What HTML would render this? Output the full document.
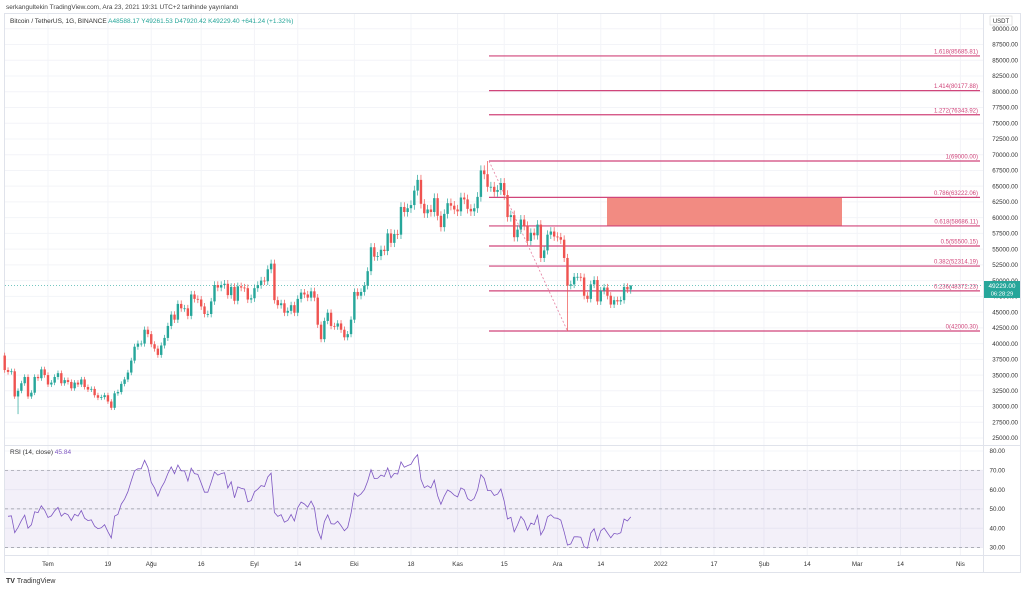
<!DOCTYPE html>
<html><head><meta charset="utf-8"><style>
html,body{margin:0;padding:0;background:#fff;}
svg{display:block;font-family:"Liberation Sans",sans-serif;}
</style></head><body>
<svg id="c" width="1024" height="589" viewBox="0 0 1024 589">
<rect x="0" y="0" width="1024" height="589" fill="#fff"/>
<text x="6" y="9" font-size="6.5" fill="#444">serkangultekin TradingView.com, Ara 23, 2021 19:31 UTC+2 tarihinde yayınlandı</text>
<rect x="4.5" y="13.5" width="1016" height="559" fill="none" stroke="#e0e3eb"/>
<g id="grid"></g>
<g id="rsibg"></g>
<g id="fib"></g>
<g id="candles"></g>
<g id="rsi"></g>
<g id="axes"></g>
<text x="10" y="23" font-size="6.5" fill="#333">Bitcoin / TetherUS, 1G, BINANCE <tspan fill="#26a69a">A48588.17 Y49261.53 D47920.42 K49229.40 +641.24 (+1.32%)</tspan></text>
<text x="10" y="454" font-size="6.5" fill="#333">RSI (14, close) <tspan fill="#7e57c2">45.84</tspan></text>
<text x="6" y="583" font-size="7" fill="#333" font-weight="bold">TV <tspan font-weight="normal">TradingView</tspan></text>
</svg>
<script>
const closesJun=[36700,37600,39200,36900,35500,35800,33600,33400,37400,36700,37300,35600,39100,40500,40200,38300,38100,35800,35500,35600,31600,32500,33700,34700,31600,32200,34700,34500,35900,35000];
const closesJul=[33500,33800,34700,35300,33700,34200,33900,32900,33800,33500,34300,33100,32700,32800,31800,31400,31500,31800,30800,29800,32100,32300,33600,34300,35400,37300,39500,40000,40000,42200,41500];
const closesAug=[39900,39200,38200,39700,40900,42800,44600,43800,46300,45600,45600,44400,47800,47100,47000,45900,44700,44700,46700,49300,48900,49300,49500,47700,49000,46800,49100,48900,48800,47000,47200];
const closesSep=[48800,49300,50000,49900,51800,52700,46900,46100,46400,44900,45200,46100,44900,47100,48100,47800,47300,48300,47300,43000,40700,43600,44900,42800,42700,43200,42200,41000,41500,43800];
const closesOct=[48200,47600,48200,49200,51500,55300,53800,53900,54900,54700,57500,56000,57400,57300,61700,60900,61500,62000,64300,66000,62200,60700,61300,60900,63100,60300,58500,60600,62300,61900,61300];
const closesNov=[61000,63200,62900,61400,61000,61500,63300,67500,66900,64900,64900,64100,64400,65500,63600,60100,60400,56900,58100,59700,58700,56300,57600,57200,58900,53600,54800,57300,57800,57000];
const closesDec=[56900,56500,53600,49200,49400,50600,50600,50500,47600,47100,49400,50100,46700,48400,48900,47600,46200,46900,46700,46900,49000,48588,49229];
const highOverrides={162:69000,205:49261};
const lowOverrides={21:28800,186:42000,205:47920};
const fibLevels=[0,0.236,0.382,0.5,0.618,0.786,1,1.272,1.414,1.618];
const fibLabels=["0(42000.30)","0.236(48372.23)","0.382(52314.19)","0.5(55500.15)","0.618(58686.11)","0.786(63222.06)","1(69000.00)","1.272(76343.92)","1.414(80177.88)","1.618(85685.81)"];
const priceTicks=[90000,87500,85000,82500,80000,77500,75000,72500,70000,67500,65000,62500,60000,57500,55000,52500,50000,47500,45000,42500,40000,37500,35000,32500,30000,27500,25000];
const rsiTicks=[80,70,60,50,40,30];
const timeLabels=["Tem","19","Ağu","16","Eyl","14","Eki","18","Kas","15","Ara","14","2022","17","Şub","14","Mar","14","Nis"];
const timeDays=[30,48,61,76,92,105,122,139,153,167,183,196,214,230,245,258,273,286,304];

const closes=[].concat(closesJun,closesJul,closesAug,closesSep,closesOct,closesNov,closesDec);
const NS="http://www.w3.org/2000/svg";
const xOf=i=>48+(i-30)*3.33;
const yP=p=>161+(69000-p)*0.006296;
const yR=v=>547.5-(v-30)*1.93;
function mk(tag,attrs,parent,txt){const e=document.createElementNS(NS,tag);for(const k in attrs)e.setAttribute(k,attrs[k]);if(txt!==undefined)e.textContent=txt;parent.appendChild(e);return e;}
const G=id=>document.getElementById(id);

const grid=G('grid');
priceTicks.forEach(p=>{const l=mk('line',{x1:5,x2:983,y1:yP(p),y2:yP(p),stroke:'#f3f4f8','stroke-width':1},grid);

});
timeDays.forEach(d=>{const x=xOf(d);const l=mk('line',{x1:x,x2:x,y1:14,y2:555,stroke:'#f3f4f8','stroke-width':1},grid);

});
rsiTicks.forEach(v=>{const l=mk('line',{x1:5,x2:983,y1:yR(v),y2:yR(v),stroke:'#f3f4f8'},grid);

});

const rb=G('rsibg');
const band=mk('rect',{x:5,y:yR(70),width:978,height:yR(30)-yR(70),fill:'rgba(126,87,194,0.09)'},rb);


[70,50,30].forEach(v=>{const l=mk('line',{x1:5,x2:983,y1:yR(v),y2:yR(v),stroke:'#9598a1','stroke-dasharray':'3,3','stroke-width':0.7},rb);

});
mk('line',{x1:5,x2:1020,y1:445.5,y2:445.5,stroke:'#e0e3eb'},rb);
mk('line',{x1:5,x2:1020,y1:555.5,y2:555.5,stroke:'#e0e3eb'},rb);
mk('line',{x1:983.5,x2:983.5,y1:14,y2:572,stroke:'#e0e3eb'},rb);

const fib=G('fib');
const pHi=69000,pLo=42000;
const rect=mk('rect',{x:607,y:yP(pLo+0.786*(pHi-pLo)),width:235,height:yP(pLo+0.618*(pHi-pLo))-yP(pLo+0.786*(pHi-pLo)),fill:'#f28b82'},fib);


fibLevels.forEach((lv,k)=>{const y=yP(pLo+lv*(pHi-pLo));
const l=mk('line',{x1:489,x2:980,y1:y,y2:y,stroke:'#d0457a','stroke-width':1.2},fib);


const t=mk('text',{x:978,y:y-2.5,'font-size':6,fill:'#d0457a','text-anchor':'end'},fib,fibLabels[k]);

});
const dl=mk('line',{x1:489,y1:yP(pHi),x2:xOf(186),y2:yP(pLo),stroke:'#e57fa0','stroke-dasharray':'2,2','stroke-width':0.8},fib);


const cur=closes[closes.length-1];
const cl=mk('line',{x1:5,x2:983,y1:yP(cur),y2:yP(cur),stroke:'#26a69a','stroke-dasharray':'1,2','stroke-width':0.6},fib);



const cg=G('candles');
for(let i=1;i<closes.length;i++){const x=xOf(i);if(x<3)continue;
const o=closes[i-1],c=closes[i];
const hi=highOverrides[i]!==undefined?highOverrides[i]:Math.max(o,c)*1.012;
const lo=lowOverrides[i]!==undefined?lowOverrides[i]:Math.min(o,c)*0.988;
const col=c>=o?'#26a69a':'#ef5350';
const g=mk('g',{},cg);


mk('line',{x1:x,x2:x,y1:yP(hi),y2:yP(lo),stroke:col,'stroke-width':0.7},g);
const yt=yP(Math.max(o,c)),yb=yP(Math.min(o,c));
mk('rect',{x:x-1.2,y:yt,width:2.4,height:Math.max(0.8,yb-yt),fill:col},g);}

let ag=0,al=0;const rsi=[];
for(let i=1;i<closes.length;i++){const d=closes[i]-closes[i-1];const gn=Math.max(d,0),ls=Math.max(-d,0);
if(i<=14){ag+=gn/14;al+=ls/14;}else{ag=(ag*13+gn)/14;al=(al*13+ls)/14;}
if(i>=14)rsi.push([i,al===0?100:100-100/(1+ag/al)]);}
const pts=rsi.filter(r=>xOf(r[0])>=5).map(r=>xOf(r[0]).toFixed(1)+','+yR(r[1]).toFixed(1)).join(' ');
const rl=mk('polyline',{points:pts,fill:'none',stroke:'#7e57c2','stroke-width':0.8},G('rsi'));



const ax=G('axes');
mk('rect',{x:990,y:16,width:22,height:9,fill:'#fff',stroke:'#ccc','stroke-width':0.5},ax);
mk('text',{x:1001,y:23,'font-size':6,fill:'#333','text-anchor':'middle'},ax,'USDT');
priceTicks.forEach(p=>{const t=mk('text',{x:1018,y:yP(p)+2.2,'font-size':6.2,fill:'#333','text-anchor':'end'},ax,p.toFixed(2));

});
rsiTicks.forEach(v=>{const t=mk('text',{x:1005,y:yR(v)+2.2,'font-size':6.2,fill:'#333','text-anchor':'end'},ax,v.toFixed(2));

});
timeLabels.forEach((s,k)=>{const t=mk('text',{x:xOf(timeDays[k]),y:566,'font-size':6.2,fill:'#333','text-anchor':'middle'},ax,s);

});
const pb=mk('rect',{x:984,y:yP(cur)-4.5,width:36,height:17,fill:'#26a69a'},ax);


mk('text',{x:1002,y:yP(cur)+2.5,'font-size':6.5,fill:'#fff','text-anchor':'middle'},ax,cur.toFixed(2));
mk('text',{x:1002,y:yP(cur)+10,'font-size':5.8,fill:'#fff','text-anchor':'middle'},ax,'06:28:29');
</script>
</body></html>
